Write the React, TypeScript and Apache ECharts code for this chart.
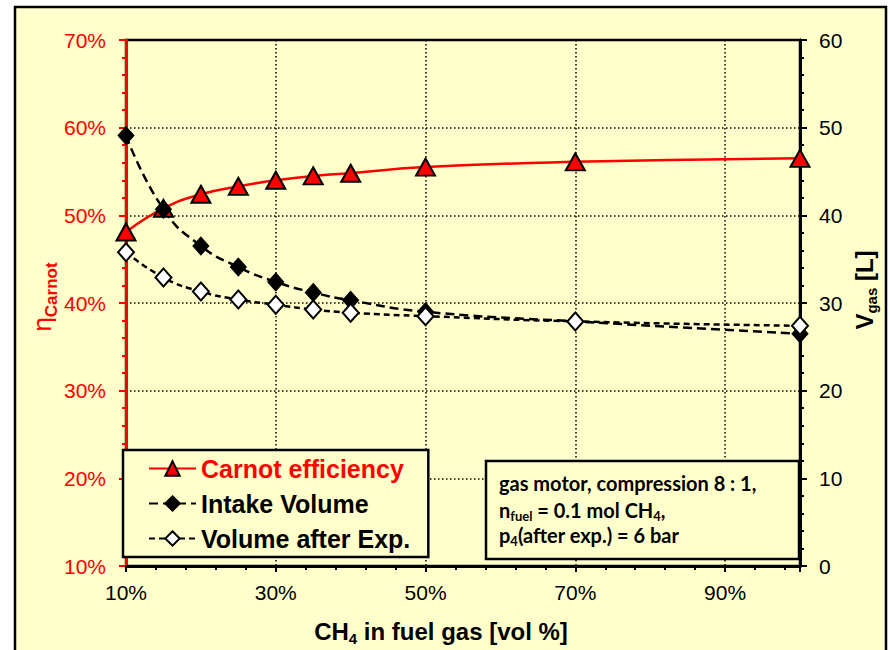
import React, { useEffect, useRef } from "react";
import * as echarts from "echarts";

const xValues = [10, 15, 20, 25, 30, 35, 40, 50, 70, 100];
const carnotEff = [48.1, 50.8, 52.4, 53.3, 54.0, 54.5, 54.8, 55.5, 56.1, 56.5];
const intakeVolume = [49.1, 40.7, 36.5, 34.1, 32.4, 31.2, 30.3, 29.0, 27.9, 26.5];
const afterExpVolume = [35.8, 32.9, 31.3, 30.4, 29.8, 29.25, 28.9, 28.5, 27.9, 27.4];
const seriesNames = ["Carnot efficiency", "Intake Volume", "Volume after Exp."];
const noteLines = [
  "{m|gas motor, compression 8 : 1,}",
  "{m|n}{s|fuel}{m| = 0.1 mol CH}{s|4}{m|,}",
  "{m|p}{s|4}{m|(after exp.) = 6 bar}",
];

const FONT = "'Liberation Sans', Arial, sans-serif";
const NOTE_FONT = "Lato, 'Open Sans', sans-serif";
const YELLOW = "#FFFFCC";

export default function App() {
  const ref = useRef<HTMLDivElement>(null);
  useEffect(() => {
    if (!ref.current) return;
    const chart = echarts.init(ref.current, undefined, { renderer: "svg" });
    const pairs = (ys: number[]) => xValues.map((x, i) => [x, ys[i]]);
    const dotted = { type: [1.5, 2.5] as any, color: "#000", width: 1.5 };
    chart.setOption({
      animation: false,
      backgroundColor: "#fff",
      textStyle: { fontFamily: FONT },
      grid: {
        left: 126,
        right: 90,
        top: 40,
        bottom: 84,
        show: true,
        borderColor: "#000",
        borderWidth: 2.5,
        backgroundColor: "transparent",
      },
      legend: {
        orient: "vertical",
        left: 123,
        top: 450,
        padding: [6, 18, 6, 25],
        itemGap: 10,
        itemWidth: 47,
        itemHeight: 18,
        backgroundColor: YELLOW,
        borderColor: "#000",
        borderWidth: 2.5,
        z: 6,
        textStyle: { fontSize: 25, fontWeight: "bold", color: "#000", fontFamily: FONT },
        data: [
          { name: seriesNames[0], textStyle: { color: "#FF0000" } },
          { name: seriesNames[1] },
          { name: seriesNames[2] },
        ],
      },
      xAxis: {
        type: "value",
        min: 10,
        max: 100,
        interval: 20,
        axisLine: { lineStyle: { color: "#000", width: 3 } },
        axisTick: { show: true, length: 6, lineStyle: { color: "#000", width: 2 } },
        minorTick: { show: true, splitNumber: 5, length: 4, lineStyle: { color: "#000", width: 2 } },
        axisLabel: {
          formatter: (v: number) => (v === 100 ? "" : v + "%"),
          fontSize: 21,
          color: "#000",
          margin: 16,
          fontFamily: FONT,
        },
        splitLine: { show: true, lineStyle: dotted },
      },
      yAxis: [
        {
          type: "value",
          position: "left",
          min: 10,
          max: 70,
          interval: 10,
          axisLine: { show: true, lineStyle: { color: "#FF0000", width: 3 } },
          axisTick: { show: true, length: 7, lineStyle: { color: "#FF0000", width: 2 } },
          minorTick: { show: true, splitNumber: 5, length: 4, lineStyle: { color: "#FF0000", width: 2 } },
          axisLabel: { formatter: "{value}%", color: "#FF0000", fontSize: 21, margin: 20, fontFamily: FONT },
          splitLine: { show: true, lineStyle: dotted },
        },
        {
          type: "value",
          position: "right",
          min: 0,
          max: 60,
          interval: 10,
          axisLine: { show: true, lineStyle: { color: "#000", width: 3 } },
          axisTick: { show: true, length: 7, lineStyle: { color: "#000", width: 2 } },
          minorTick: { show: true, splitNumber: 5, length: 4, lineStyle: { color: "#000", width: 2 } },
          axisLabel: { color: "#000", fontSize: 21, margin: 19, fontFamily: FONT },
          splitLine: { show: false },
        },
      ],
      series: [
        {
          name: seriesNames[0],
          type: "line",
          yAxisIndex: 0,
          smooth: true,
          data: pairs(carnotEff),
          symbol: "triangle",
          symbolSize: [19, 17],
          itemStyle: { color: "#FF0000", borderColor: "#000", borderWidth: 2 },
          lineStyle: { color: "#FF0000", width: 2.5 },
        },
        {
          name: seriesNames[1],
          type: "line",
          yAxisIndex: 1,
          smooth: true,
          data: pairs(intakeVolume),
          symbol: "diamond",
          symbolSize: [16, 18],
          itemStyle: { color: "#000", borderColor: "#000", borderWidth: 1 },
          lineStyle: { color: "#000", width: 2.5, type: [9, 5] },
        },
        {
          name: seriesNames[2],
          type: "line",
          yAxisIndex: 1,
          smooth: true,
          data: pairs(afterExpVolume),
          symbol: "diamond",
          symbolSize: [16, 18],
          itemStyle: { color: "#fff", borderColor: "#000", borderWidth: 2 },
          lineStyle: { color: "#000", width: 2.5, type: [6, 4] },
        },
      ],
      graphic: [
        {
          type: "rect",
          z: -100,
          shape: { x: 15, y: 7, width: 871, height: 660 },
          style: { fill: YELLOW, stroke: "#000", lineWidth: 2.5 },
        },
        {
          type: "text",
          x: 42,
          y: 297,
          rotation: Math.PI / 2,
          z: 10,
          style: {
            text: "{e|η}{c|Carnot}",
            align: "center",
            verticalAlign: "middle",
            fill: "#FF0000",
            rich: {
              e: { fontSize: 26, fontFamily: FONT, fill: "#FF0000" },
              c: { fontSize: 17, fontWeight: "bold", fontFamily: FONT, fill: "#FF0000", padding: [18, 0, 0, 0] },
            },
          },
        },
        {
          type: "text",
          x: 864,
          y: 290,
          rotation: Math.PI / 2,
          z: 10,
          style: {
            text: "{m|V}{s|gas}{m| [L]}",
            align: "center",
            verticalAlign: "middle",
            fill: "#000",
            rich: {
              m: { fontSize: 24, fontWeight: "bold", fontFamily: FONT, fill: "#000" },
              s: { fontSize: 15, fontWeight: "bold", fontFamily: FONT, fill: "#000", padding: [15, 0, 0, 0] },
            },
          },
        },
        {
          type: "text",
          x: 441,
          y: 631,
          z: 10,
          style: {
            text: "{m|CH}{s|4}{m| in fuel gas [vol %]}",
            align: "center",
            verticalAlign: "middle",
            fill: "#000",
            rich: {
              m: { fontSize: 24, fontWeight: "bold", fontFamily: FONT, fill: "#000" },
              s: { fontSize: 15, fontWeight: "bold", fontFamily: FONT, fill: "#000", padding: [15, 0, 0, 0] },
            },
          },
        },
        {
          type: "group",
          x: 486,
          y: 461,
          z: 10,
          children: [
            {
              type: "rect",
              z: 10,
              shape: { x: 0, y: 0, width: 313, height: 98 },
              style: { fill: YELLOW, stroke: "#000", lineWidth: 2.5 },
            },
            ...noteLines.map((t, i) => ({
              type: "text",
              z: 11,
              x: 13,
              y: [22, 49, 74][i],
              style: {
                text: t,
                align: "left",
                verticalAlign: "middle",
                fill: "#000",
                rich: {
                  m: { fontSize: 20, fontWeight: "bold", fontFamily: NOTE_FONT, fill: "#000" },
                  s: { fontSize: 13, fontWeight: "bold", fontFamily: NOTE_FONT, fill: "#000", padding: [11, 0, 0, 0] },
                },
              },
            })),
          ],
        },
      ],
    });
    return () => chart.dispose();
  }, []);
  return (
    <div
      ref={ref}
      style={{ position: "absolute", left: 0, top: 0, width: 890, height: 650 }}
    />
  );
}
